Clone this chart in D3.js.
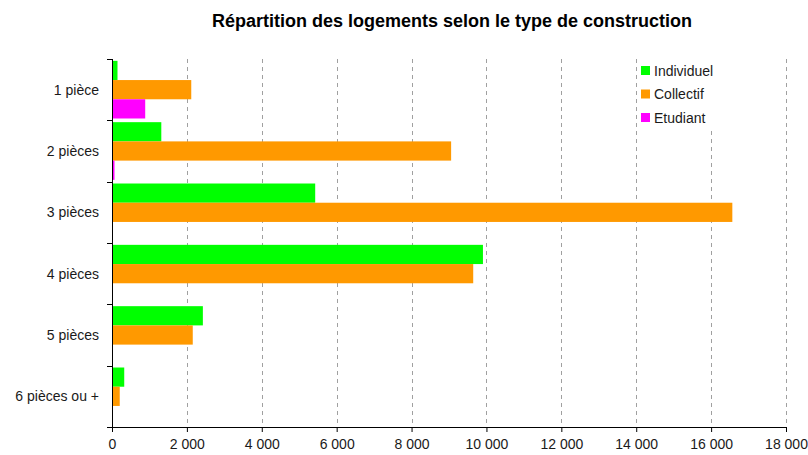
<!DOCTYPE html>
<html>
<head>
<meta charset="utf-8">
<script src="https://cdn.jsdelivr.net/npm/d3@7"></script>
<style>
  body { margin: 0; background: #fff; }
  svg text { font-family: "Liberation Sans", Arial, sans-serif; fill: #1a1a1a; }
</style>
</head>
<body>
<div id="chart"></div>
<script>
// categories and series
var categories = ["1 pièce", "2 pièces", "3 pièces", "4 pièces", "5 pièces", "6 pièces ou +"];
var seriesNames = ["Individuel", "Collectif", "Etudiant"];
var seriesColors = ["#00ff00", "#ff9900", "#ff00ff"];
var individuel = [120, 1290, 5400, 9880, 2400, 300];
var collectif = [2090, 9030, 16540, 9620, 2130, 180];
var etudiant = [860, 40, 0, 0, 0, 0];
var xTicks = [0, 2000, 4000, 6000, 8000, 10000, 12000, 14000, 16000, 18000];

var width = 808, height = 455;
var margin = { top: 59, right: 22, bottom: 28, left: 112 },
    w = width - margin.left - margin.right,
    h = height - margin.top - margin.bottom;

var data = categories.map(function(c, i) {
    return { name: c, values: [individuel[i], collectif[i], etudiant[i]] };
});

var x = d3.scaleLinear().domain([0, 18000]).range([0, w]);
var y = d3.scaleBand().domain(categories).range([0, h]).paddingInner(0.06).paddingOuter(0.03);
var ys = d3.scaleBand().domain(d3.range(seriesNames.length)).range([0, y.bandwidth()]);
// band boundaries for the tick marks on the category axis
var yEdge = d3.scaleLinear().domain([0, categories.length]).range([0, h]);

var fmt = function(d) { return d3.format(",")(d).replace(/,/g, " "); };

var svg = d3.select("#chart").append("svg")
    .attr("width", width)
    .attr("height", height);

svg.append("text")
    .attr("x", margin.left + w / 2 + 3)
    .attr("y", 27)
    .attr("text-anchor", "middle")
    .style("font-size", "18px")
    .style("font-weight", "bold")
    .style("fill", "#000")
    .text("Répartition des logements selon le type de construction");

var g = svg.append("g").attr("transform", "translate(" + margin.left + "," + margin.top + ")");

// dashed vertical grid
g.selectAll(".grid")
    .data(xTicks.slice(1))
    .enter()
    .append("line")
    .attr("x1", function(d) { return Math.round(x(d)) + 0.5; })
    .attr("x2", function(d) { return Math.round(x(d)) + 0.5; })
    .attr("y1", 0)
    .attr("y2", h)
    .attr("stroke", "#a0a0a0")
    .attr("stroke-dasharray", "4,4");

// bars
var groups = g.selectAll(".cat")
    .data(data)
    .enter()
    .append("g")
    .attr("transform", function(d) { return "translate(0," + y(d.name) + ")"; });

groups.selectAll("rect")
    .data(function(d) { return d.values; })
    .enter()
    .append("rect")
    .attr("x", 1)
    .attr("y", function(d, i) { return ys(i); })
    .attr("width", function(d) { return Math.max(0, x(d)); })
    .attr("height", ys.bandwidth())
    .attr("fill", function(d, i) { return seriesColors[i]; });

// x axis
var xAxis = g.append("g")
    .attr("transform", "translate(0," + h + ")")
    .call(d3.axisBottom(x).tickValues(xTicks).tickFormat(fmt).tickSize(5).tickPadding(7));
xAxis.select(".domain").attr("stroke", "#000");
xAxis.selectAll(".tick line").attr("stroke", "#000");
xAxis.selectAll("text").style("font-size", "14px").attr("fill", "#1a1a1a");

// y axis: line with tick marks at band edges, labels centred in bands
var yAxis = g.append("g");
yAxis.append("line")
    .attr("x1", 0.5).attr("x2", 0.5)
    .attr("y1", 0).attr("y2", h)
    .attr("stroke", "#000");
yAxis.selectAll(".edge")
    .data(d3.range(categories.length + 1))
    .enter()
    .append("line")
    .attr("x1", -5).attr("x2", 0.5)
    .attr("y1", function(d) { return Math.round(yEdge(d)) + 0.5; })
    .attr("y2", function(d) { return Math.round(yEdge(d)) + 0.5; })
    .attr("stroke", "#000");
yAxis.selectAll(".lab")
    .data(categories)
    .enter()
    .append("text")
    .attr("x", -13)
    .attr("y", function(d) { return y(d) + y.bandwidth() / 2; })
    .attr("dy", "0.35em")
    .attr("text-anchor", "end")
    .style("font-size", "14px")
    .text(function(d) { return d; });

// legend, on a white box that hides the grid behind it
svg.append("rect")
    .attr("x", 638).attr("y", 58)
    .attr("width", 146).attr("height", 72)
    .attr("fill", "#fff");
var legend = svg.append("g").attr("transform", "translate(641,66)");
var items = legend.selectAll(".item")
    .data(seriesNames)
    .enter()
    .append("g")
    .attr("transform", function(d, i) { return "translate(0," + i * 23.5 + ")"; });
items.append("rect")
    .attr("width", 9).attr("height", 9)
    .attr("fill", function(d, i) { return seriesColors[i]; });
items.append("text")
    .attr("x", 13)
    .attr("y", 5)
    .attr("dy", "0.35em")
    .style("font-size", "14px")
    .text(function(d) { return d; });
</script>
</body>
</html>
